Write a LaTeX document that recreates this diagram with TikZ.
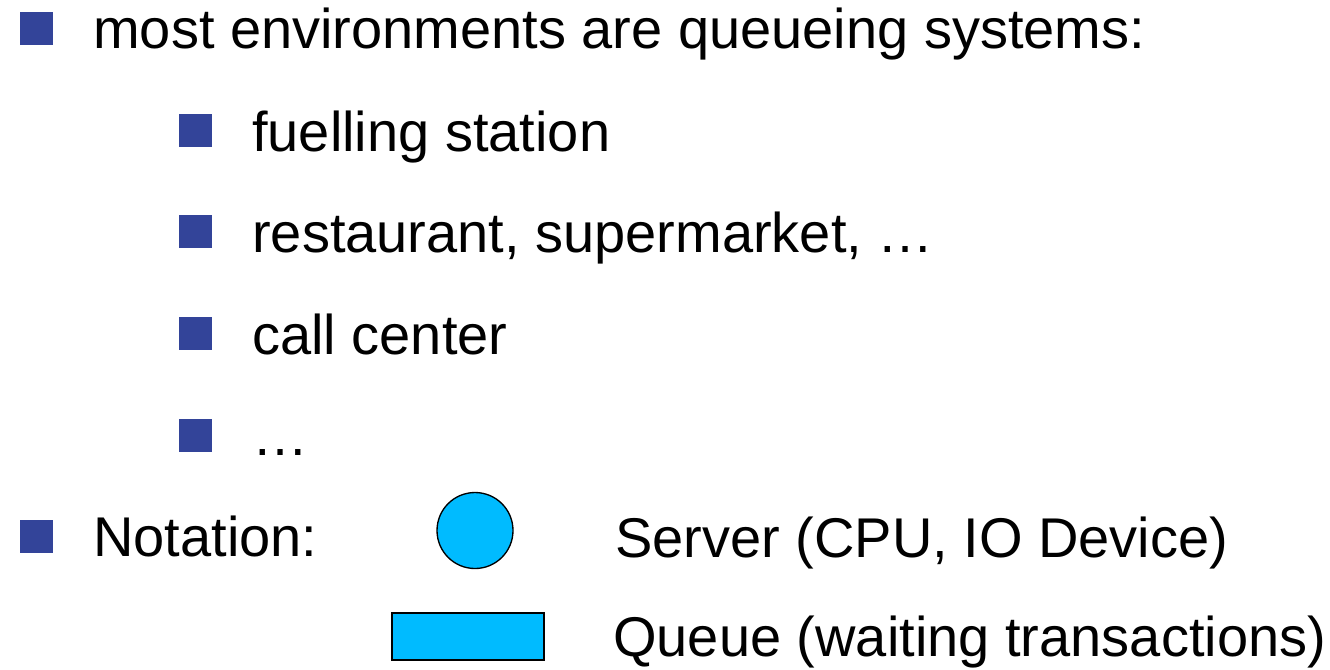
\documentclass[tikz,border=0pt]{standalone}
\usepackage{fontspec}
\setmainfont{Liberation Sans}
\usetikzlibrary{positioning}

\definecolor{bulletblue}{RGB}{51,68,153}
\definecolor{serverblue}{RGB}{0,187,255}

\begin{document}
\begin{tikzpicture}[
  x=0.75pt, y=-0.75pt,
  bulletbox/.style={fill=bulletblue,minimum size=24.75pt,inner sep=0pt},
  item/.style={anchor=base west,inner sep=0pt,font=\fontsize{42}{50}\selectfont},
  server/.style={circle,draw,line width=1pt,fill=serverblue,minimum size=57pt,inner sep=0pt},
  queue/.style={draw,line width=1pt,fill=serverblue,minimum width=114pt,minimum height=35.25pt,inner sep=0pt}
]
  \useasboundingbox (0,0) rectangle (1330,669);

  % top level
  \node[bulletbox] (b1) at (36.5,28.5) {};
  \node[item] (envs) at (93,48) {most environments are queueing systems:};

  % sub items
  \node[bulletbox] (b11) at (195.5,130.5) {};
  \node[item] (fuel) at (252,151) {fuelling station};
  \node[bulletbox] (b12) at (195.5,231.5) {};
  \node[item] (shop) at (252,252) {restaurant, supermarket, …};
  \node[bulletbox] (b13) at (195.5,333.5) {};
  \node[item] (call) at (252,354) {call center};
  \node[bulletbox] (b14) at (195.5,435.5) {};
  \node[item] (more) at (252,455) {…};

  % notation
  \node[bulletbox] (b2) at (36.5,536.5) {};
  \node[item] (notation) at (93,556) {Notation:};
  \node[server] (srv) at (475,530.5) {};
  \node[item] (srvtext) at (615,557) {Server (CPU, IO Device)};
  \node[queue] (que) at (468,636.5) {};
  \node[item] (quetext) at (613,656) {Queue (waiting transactions)};
\end{tikzpicture}
\end{document}
